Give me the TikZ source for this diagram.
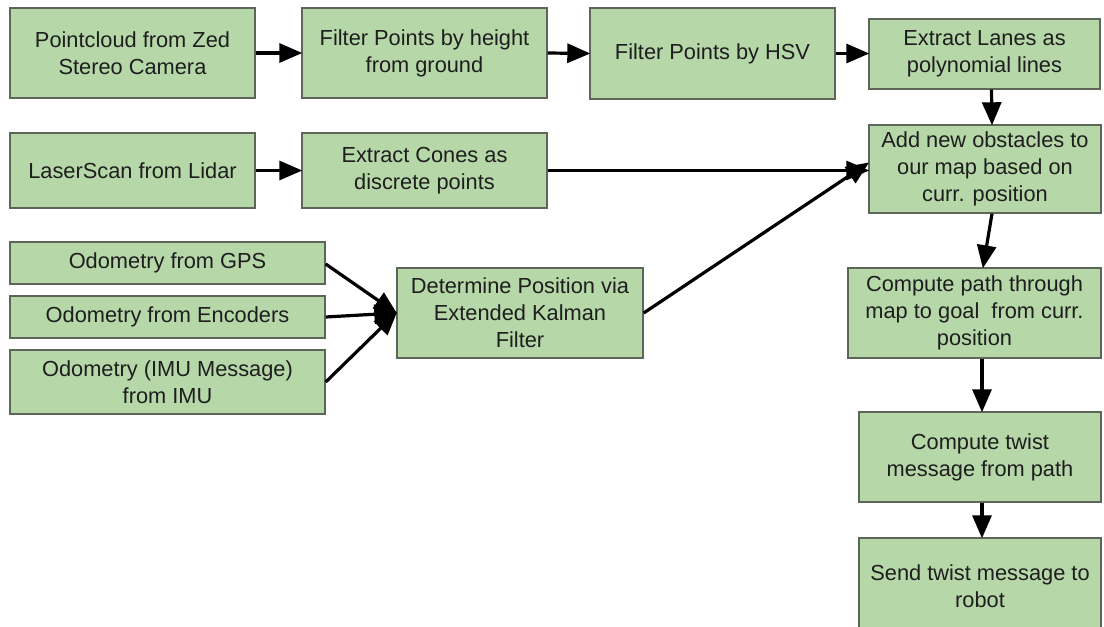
\documentclass[tikz,border=0pt]{standalone}
\usepackage{fontspec}
\setmainfont{Liberation Sans}
\usetikzlibrary{arrows.meta}
\definecolor{boxfill}{HTML}{B6D7A8}
\definecolor{boxline}{HTML}{5E665A}
\definecolor{txt}{HTML}{1E1E1E}
\begin{document}
\begin{tikzpicture}[x=1pt,y=-1pt,
  box/.style={draw=boxline, line width=1.4pt, fill=boxfill, inner sep=0pt,
    align=center, text=txt,
    font=\fontsize{21.8}{27}\selectfont},
  arr/.style={draw=black, line width=3.2pt,
    -{Triangle[length=23pt,width=19pt]}, shorten >=-1pt}]
\useasboundingbox (0,0) rectangle (1104,627);
\clip (0,0) rectangle (1104,627);
\fill[white] (0,0) rectangle (1104,627);
% row 1
\node[box, minimum width=245, minimum height=90] (pc) at (132.5,53) {Pointcloud from Zed\\Stereo Camera};
\node[box, minimum width=245, minimum height=90] (fh) at (424.5,53) {Filter Points by height\\from ground};
\node[box, minimum width=245, minimum height=91] (hsv) at (712.5,53.5) {Filter Points by HSV};
\node[box, minimum width=231, minimum height=70] (lanes) at (984.5,54) {Extract Lanes as\\polynomial lines};
% row 2
\node[box, minimum width=245, minimum height=75] (laser) at (132.5,170.5) {LaserScan from Lidar};
\node[box, minimum width=245, minimum height=75] (cones) at (424.5,170.5) {Extract Cones as\\discrete points};
\node[box, minimum width=232, minimum height=88] (add) at (985,169) {Add new obstacles to\\our map based on\\curr. position};
% odometry
\node[box, minimum width=315, minimum height=42] (gps) at (167.5,263) {Odometry from GPS};
\node[box, minimum width=315, minimum height=42] (enc) at (167.5,317) {Odometry from Encoders};
\node[box, minimum width=315, minimum height=64] (imu) at (167.5,382) {Odometry (IMU Message)\\from IMU};
\node[box, minimum width=246, minimum height=90] (det) at (520,313) {Determine Position via\\Extended Kalman\\Filter};
% right column
\node[box, minimum width=253, minimum height=90] (path) at (974.5,313) {Compute path through\\map to goal\ \ from curr.\\position};
\node[box, minimum width=242, minimum height=90] (twist) at (980,457) {Compute twist\\message from path};
\node[box, minimum width=242, minimum height=96] (send) at (980,586) {Send twist message to\\robot};
% connectors
\draw[arr] (pc.east) -- (fh.west);
\draw[arr] (fh.east) -- (hsv.west);
\draw[arr] (hsv.east) -- (hsv.east -| lanes.west);
\draw[arr] (laser.east) -- (cones.west);
\draw[arr] (cones.east) -- (cones.east -| add.west);
\coordinate (detin) at (det.west);
\draw[arr] ([yshift=-1pt]gps.east) -- (detin);
\draw[arr] (enc.east) -- (detin);
\draw[arr] (imu.east) -- (detin);
\draw[arr] (det.east) -- ([yshift=6pt]add.west);
\draw[arr] ([xshift=7pt]lanes.south) -- ([xshift=7pt]add.south |- add.north);
\draw[arr] ([xshift=7pt]add.south) -- ([xshift=8.5pt]path.north);
\draw[arr] ([xshift=7.5pt]path.south) -- ([xshift=2pt]twist.north);
\draw[arr] ([xshift=2pt]twist.south) -- ([xshift=2pt]send.north);
\end{tikzpicture}
\end{document}
